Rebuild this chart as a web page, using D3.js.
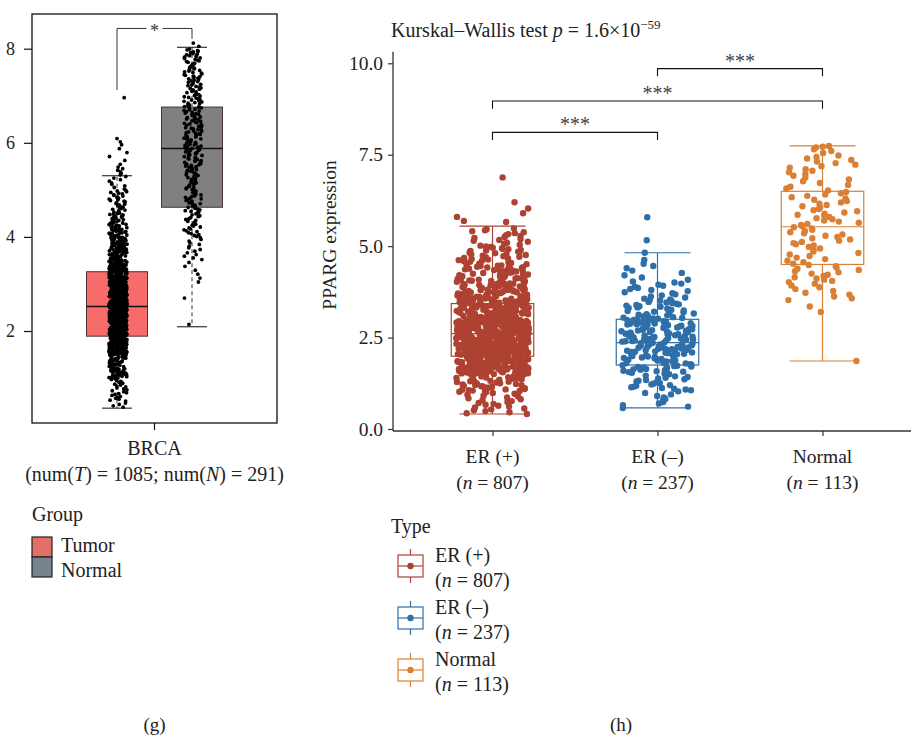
<!DOCTYPE html>
<html>
<head>
<meta charset="utf-8">
<script src="https://cdn.jsdelivr.net/npm/d3@7/dist/d3.min.js"></script>
<style>
  body { margin: 0; background: #fff; }
  svg { font-family: "Liberation Serif", "DejaVu Serif", serif; }
</style>
</head>
<body>
<svg id="chart" width="911" height="739"></svg>
<script>
// ---- panel (g) data ----
const gGroups = ['Tumor', 'Normal'];
const gFill = ['#F86B6B', '#808080'];
const gKeyFill = ['#E36F67', '#778490'];
const gTicks = [2, 4, 6, 8];
// lower whisker, q1, median, q3, upper whisker
const tumorBox = [0.36, 1.89, 2.52, 3.26, 5.30];
const gNormalBox = [2.09, 4.63, 5.88, 6.76, 8.03];
// point counts per 0.5 band and single points
const BIN = 0.5;
const tumorStart = 0.5;
const tumorCounts = [25, 75, 180, 245, 200, 150, 95, 55, 32, 15, 6];
const tumorSingles = [0.38, 0.41, 0.44, 0.47, 6.02, 6.09, 6.96];
const gNormalStart = 3.0;
const gNormalCounts = [6, 14, 25, 30, 32, 40, 38, 36, 34, 32];
const gNormalSingles = [2.14, 2.70, 8.05, 8.12];

// ---- panel (h) data ----
const types = ['ER (+)', 'ER (\u2013)', 'Normal'];
const typeN = [807, 237, 113];
const typeColors = ['#AE4232', '#2F6FA9', '#DA8035'];
const hTicks = [0, 2.5, 5, 7.5, 10];
const erPosBox = [0.41, 1.99, 2.61, 3.43, 5.55];
const erNegBox = [0.58, 1.75, 2.36, 3.00, 4.82];
const hNormalBox = [1.86, 4.50, 5.53, 6.50, 7.74];
const erPosStart = 0.5;
const erPosCounts = [20, 45, 133, 172, 150, 105, 70, 50, 32, 19];
const erPosSingles = [0.41, 0.43, 0.46, 0.49, 5.66, 5.69, 5.8, 5.9, 6.03, 6.2, 6.88];
const erNegStart = 0.55;
const erNegCounts = [12, 25, 40, 51, 50, 30, 17, 8];
const erNegSingles = [4.62, 4.82, 5.16, 5.79];
const hNormalStart = 3.5;
const hNormalCounts = [10, 15, 12, 15, 16, 14, 10, 12];
const hNormalSingles = [1.86, 3.2, 3.35, 7.55, 7.6, 7.65, 7.7, 7.72, 7.74];
// comparisons: [from, to, bracket height, label]
const hBrackets = [[0, 1, 8.11, '***'], [0, 2, 8.97, '***'], [1, 2, 9.855, '***']];

const svg = d3.select('#chart');
const ink = '#222';

function expand(start, counts, singles) {
  const vals = [];
  counts.forEach((n, k) => {
    for (let j = 0; j < n; j++) vals.push(start + BIN * (k + (j + 0.5) / n));
  });
  return vals.concat(singles);
}
// fixed horizontal scatter for the jitter (same every run)
function spread(i) {
  const s = Math.sin((i + 1) * 12.9898) * 43758.5453;
  return s - Math.floor(s) - 0.5;
}

// ================= panel (g) =================
const G = { left: 32, right: 277, top: 14, bottom: 423 };
const yG = d3.scaleLinear().domain([2, 8]).range([331, 48.7]);
const xG = d3.scaleBand().domain(['BRCA']).range([G.left, G.right]);
const dodge = d3.scalePoint().domain(gGroups).range([-37.5, 37.5]);
const gx = g => xG('BRCA') + xG.bandwidth() / 2 + dodge(g);

const pg = svg.append('g');
pg.append('rect').attr('x', G.left).attr('y', G.top)
  .attr('width', G.right - G.left).attr('height', G.bottom - G.top)
  .attr('fill', 'none').attr('stroke', '#111').attr('stroke-width', 1.3);

const yAxisG = pg.append('g').attr('transform', `translate(${G.left},0)`)
  .call(d3.axisLeft(yG).tickValues(gTicks).tickSize(8).tickPadding(9).tickFormat(d3.format('d')));
yAxisG.select('.domain').remove();
yAxisG.selectAll('line').attr('stroke', '#111').attr('stroke-width', 1.2);
yAxisG.selectAll('text').attr('font-size', 18).attr('fill', ink).attr('font-family', 'Liberation Serif');

const xAxisG = pg.append('g').attr('transform', `translate(0,${G.bottom})`)
  .call(d3.axisBottom(xG).tickSize(7).tickFormat(''));
xAxisG.select('.domain').remove();
xAxisG.selectAll('line').attr('stroke', '#111').attr('stroke-width', 1.2);

const gBoxes = [tumorBox, gNormalBox];
gGroups.forEach((grp, i) => {
  const b = gBoxes[i], cx = gx(grp);
  pg.append('line').attr('x1', cx).attr('x2', cx).attr('y1', yG(b[3])).attr('y2', yG(b[4]))
    .attr('stroke', '#333').attr('stroke-dasharray', '4,3');
  pg.append('line').attr('x1', cx).attr('x2', cx).attr('y1', yG(b[1])).attr('y2', yG(b[0]))
    .attr('stroke', '#333').attr('stroke-dasharray', '4,3');
  [b[0], b[4]].forEach(v => pg.append('line').attr('x1', cx - 15).attr('x2', cx + 15)
    .attr('y1', yG(v)).attr('y2', yG(v)).attr('stroke', '#222').attr('stroke-width', 1.1));
  pg.append('rect').attr('x', cx - 30.5).attr('width', 61)
    .attr('y', yG(b[3])).attr('height', yG(b[1]) - yG(b[3]))
    .attr('fill', gFill[i]).attr('stroke', '#4a3535').attr('stroke-width', 1);
  pg.append('line').attr('x1', cx - 30.5).attr('x2', cx + 30.5)
    .attr('y1', yG(b[2])).attr('y2', yG(b[2])).attr('stroke', '#111').attr('stroke-width', 1.6);
});

const gPoints = [expand(tumorStart, tumorCounts, tumorSingles),
                 expand(gNormalStart, gNormalCounts, gNormalSingles)];
gGroups.forEach((grp, i) => {
  pg.append('g').selectAll('circle').data(gPoints[i]).join('circle')
    .attr('cx', (d, k) => gx(grp) + 1 + spread(k + i * 2000) * 18)
    .attr('cy', d => yG(d)).attr('r', 1.9).attr('fill', '#000');
});

// significance bracket
const gMid = (gx('Tumor') + gx('Normal')) / 2;
pg.append('path')
  .attr('d', `M${gx('Tumor')},${yG(7.12)}V${yG(8.43)}H${gMid - 8}M${gMid + 8},${yG(8.43)}H${gx('Normal')}V${yG(8.21)}`)
  .attr('fill', 'none').attr('stroke', '#333').attr('stroke-width', 1);
pg.append('text').attr('x', gMid).attr('y', yG(8.43) + 9).attr('text-anchor', 'middle')
  .attr('font-size', 18).attr('fill', '#333').text('*');

const gLab1 = pg.append('text').attr('x', xG('BRCA') + xG.bandwidth() / 2).attr('y', 455)
  .attr('text-anchor', 'middle').attr('font-size', 20).attr('fill', ink).text('BRCA');
const gLab2 = pg.append('text').attr('x', xG('BRCA') + xG.bandwidth() / 2).attr('y', 481)
  .attr('text-anchor', 'middle').attr('font-size', 20).attr('fill', ink);
gLab2.append('tspan').text('(num(');
gLab2.append('tspan').attr('font-style', 'italic').text('T');
gLab2.append('tspan').text(') = 1085; num(');
gLab2.append('tspan').attr('font-style', 'italic').text('N');
gLab2.append('tspan').text(') = 291)');

// legend (g)
pg.append('text').attr('x', 32).attr('y', 521).attr('font-size', 20).attr('fill', ink).text('Group');
gGroups.forEach((grp, i) => {
  pg.append('rect').attr('x', 32).attr('y', 537 + i * 20).attr('width', 20).attr('height', 20)
    .attr('fill', gKeyFill[i]).attr('stroke', '#222').attr('stroke-width', 1.2);
  pg.append('text').attr('x', 61).attr('y', 552 + i * 25).attr('font-size', 20).attr('fill', ink).text(grp);
});
pg.append('text').attr('x', xG('BRCA') + xG.bandwidth() / 2).attr('y', 731)
  .attr('text-anchor', 'middle').attr('font-size', 19).attr('fill', ink).text('(g)');

// ================= panel (h) =================
const H = { left: 393, right: 911, top: 51.7, bottom: 431 };
const yH = d3.scaleLinear().domain([0, 10]).range([429, 63.3]);
const xH = d3.scalePoint().domain(types).range([492.5, 822.5]);
const step = xH.step();
const ph = svg.append('g');

const title = ph.append('text').attr('x', 391).attr('y', 37).attr('font-size', 20).attr('fill', ink);
title.append('tspan').text('Kurskal\u2013Wallis test ');
title.append('tspan').attr('font-style', 'italic').text('p');
title.append('tspan').text(' = 1.6\u00d710');
title.append('tspan').attr('font-size', 13).attr('dy', -8).text('\u221259');

const yAxisH = ph.append('g').attr('transform', `translate(${H.left},0)`)
  .call(d3.axisLeft(yH).tickValues(hTicks).tickSize(5).tickPadding(5).tickFormat(d3.format('.1f')));
yAxisH.select('.domain').remove();
yAxisH.selectAll('line').attr('stroke', '#333').attr('stroke-width', 1.2);
yAxisH.selectAll('text').attr('font-size', 19.5).attr('fill', ink).attr('font-family', 'Liberation Serif');
ph.append('line').attr('x1', H.left).attr('x2', H.left).attr('y1', H.top).attr('y2', H.bottom)
  .attr('stroke', '#333').attr('stroke-width', 1.3);
ph.append('line').attr('x1', H.left).attr('x2', H.right).attr('y1', H.bottom).attr('y2', H.bottom)
  .attr('stroke', '#333').attr('stroke-width', 1.3);

const xAxisH = ph.append('g').attr('transform', `translate(0,${H.bottom})`)
  .call(d3.axisBottom(xH).tickSize(5).tickFormat(''));
xAxisH.select('.domain').remove();
xAxisH.selectAll('line').attr('stroke', '#333').attr('stroke-width', 1.2);
types.forEach((t, i) => {
  ph.append('text').attr('x', xH(t)).attr('y', 463).attr('text-anchor', 'middle')
    .attr('font-size', 19.5).attr('fill', ink).text(t);
  const n = ph.append('text').attr('x', xH(t)).attr('y', 489).attr('text-anchor', 'middle')
    .attr('font-size', 19.5).attr('fill', ink);
  n.append('tspan').text('(');
  n.append('tspan').attr('font-style', 'italic').text('n');
  n.append('tspan').text(` = ${typeN[i]})`);
});

ph.append('text').attr('transform', 'translate(336,235) rotate(-90)').attr('text-anchor', 'middle')
  .attr('font-size', 19.5).attr('fill', ink).text('PPARG expression');

const hBoxes = [erPosBox, erNegBox, hNormalBox];
const boxHalf = step * 0.25, capHalf = step * 0.2, jit = step * 0.44;
types.forEach((t, i) => {
  const b = hBoxes[i], cx = xH(t), c = typeColors[i];
  ph.append('line').attr('x1', cx).attr('x2', cx).attr('y1', yH(b[0])).attr('y2', yH(b[4]))
    .attr('stroke', c).attr('stroke-width', 1.2);
  [b[0], b[4]].forEach(v => ph.append('line').attr('x1', cx - capHalf).attr('x2', cx + capHalf)
    .attr('y1', yH(v)).attr('y2', yH(v)).attr('stroke', c).attr('stroke-width', 1.2));
  ph.append('rect').attr('x', cx - boxHalf).attr('width', boxHalf * 2)
    .attr('y', yH(b[3])).attr('height', yH(b[1]) - yH(b[3]))
    .attr('fill', '#fff').attr('stroke', c).attr('stroke-width', 1.2);
  ph.append('line').attr('x1', cx - boxHalf).attr('x2', cx + boxHalf)
    .attr('y1', yH(b[2])).attr('y2', yH(b[2])).attr('stroke', c).attr('stroke-width', 1.2);
});

const hPoints = [expand(erPosStart, erPosCounts, erPosSingles),
                 expand(erNegStart, erNegCounts, erNegSingles),
                 expand(hNormalStart, hNormalCounts, hNormalSingles)];
types.forEach((t, i) => {
  ph.append('g').selectAll('circle').data(hPoints[i]).join('circle')
    .attr('cx', (d, k) => xH(t) + spread(k + 5000 + i * 1000) * jit)
    .attr('cy', d => yH(d)).attr('r', 3.2).attr('fill', typeColors[i]);
});

hBrackets.forEach(([a, b, h, lab]) => {
  const x1 = xH(types[a]), x2 = xH(types[b]);
  ph.append('path').attr('d', `M${x1},${yH(h - 0.21)}V${yH(h)}H${x2}V${yH(h - 0.21)}`)
    .attr('fill', 'none').attr('stroke', '#111').attr('stroke-width', 1.1);
  ph.append('text').attr('x', (x1 + x2) / 2).attr('y', yH(h) - 1).attr('text-anchor', 'middle')
    .attr('font-size', 20).attr('fill', '#444').text(lab);
});

// legend (h)
ph.append('text').attr('x', 391).attr('y', 533).attr('font-size', 20).attr('fill', ink).text('Type');
types.forEach((t, i) => {
  const cy = 566 + i * 52, c = typeColors[i];
  const k = ph.append('g');
  k.append('line').attr('x1', 410.5).attr('x2', 410.5).attr('y1', cy - 17).attr('y2', cy + 17)
    .attr('stroke', c).attr('stroke-width', 1.2);
  k.append('rect').attr('x', 398).attr('y', cy - 11).attr('width', 25).attr('height', 22)
    .attr('fill', '#fff').attr('stroke', c).attr('stroke-width', 1.2);
  k.append('line').attr('x1', 398).attr('x2', 423).attr('y1', cy).attr('y2', cy)
    .attr('stroke', c).attr('stroke-width', 1.2);
  k.append('circle').attr('cx', 410.5).attr('cy', cy).attr('r', 3.2).attr('fill', c);
  ph.append('text').attr('x', 435).attr('y', cy - 4).attr('font-size', 20).attr('fill', ink).text(t);
  const n = ph.append('text').attr('x', 435).attr('y', cy + 21).attr('font-size', 20).attr('fill', ink);
  n.append('tspan').text('(');
  n.append('tspan').attr('font-style', 'italic').text('n');
  n.append('tspan').text(` = ${typeN[i]})`);
});
ph.append('text').attr('x', 621).attr('y', 731).attr('text-anchor', 'middle')
  .attr('font-size', 19).attr('fill', ink).text('(h)');
</script>
</body>
</html>
